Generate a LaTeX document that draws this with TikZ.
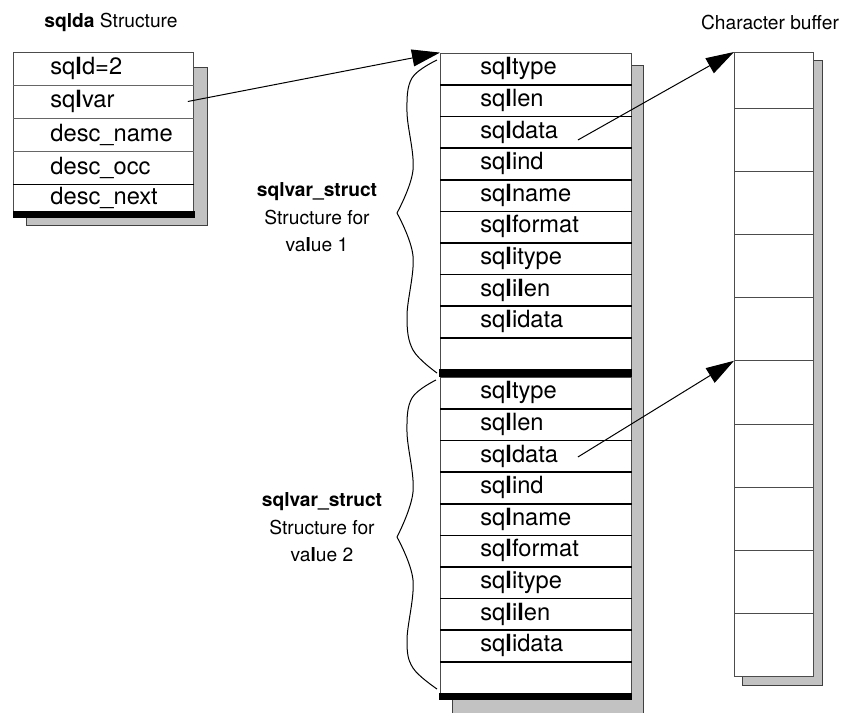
\documentclass[tikz,border=0pt]{standalone}
\usepackage{fontspec}
\setmainfont{TeX Gyre Heros}
\usepackage{tikz}
\usetikzlibrary{positioning, arrows.meta}
\definecolor{shadowgray}{gray}{0.76}
\newcommand{\lbold}{\textbf{l}}

\begin{document}
\begin{tikzpicture}[
    x=0.5pt, y=-0.5pt,
    node distance=0pt,
    caption/.style={align=center, inner sep=0pt, font=\fontsize{9.6}{13.75}\selectfont},
    rowtext/.style={anchor=west, align=left, inner sep=0pt, font=\fontsize{11.85}{14}\selectfont},
    darow/.style={rowtext, text width=90pt, minimum height=16.5pt, execute at begin node={\hspace*{18.5pt}}},
    varrow/.style={rowtext, text width=95.5pt, minimum height=15.8pt, execute at begin node={\hspace*{20pt}}},
    structbox/.style={draw=black!70, fill=white, line width=0.5pt, inner sep=0pt, outer sep=0pt},
    cell/.style={draw=black!70, fill=white, line width=0.5pt, minimum width=39.5pt, minimum height=31.6pt, inner sep=0pt, outer sep=0pt},
    shadow/.style={fill=shadowgray, draw=black!75, line width=0.5pt},
    thinrule/.style={draw=black!60, line width=0.5pt},
    rowrule/.style={draw=black, line width=0.75pt},
    ptr/.style={-{Triangle[length=14pt, width=8.5pt]}, line width=0.5pt},
    brace/.style={line width=0.5pt}
]
    \useasboundingbox (0,0) rectangle (843,713);

    % --- sqlda STRUCTURE ---
    \node[caption] (datitle) at (111,22) {\textbf{sqlda} Structure};
    \filldraw[shadow] (26,67) rectangle (207,225);
    \node[structbox, minimum width=90pt, minimum height=79.5pt] (da) at (103,131.5) {};
    \fill (13,211) rectangle (195,218);

    \node[darow] (sqld) at (13,68.5) {sq\lbold d=2};
    \node[darow] (sqlvar) at (13,101.5) {sq\lbold var};
    \node[darow] (descname) at (13,134.5) {desc\_name};
    \node[darow] (descocc) at (13,167.5) {desc\_occ};
    \node[darow] (descnext) at (13,197.5) {desc\_next};
    \draw[thinrule] (sqld.south west) -- (sqld.south east);
    \draw[thinrule] (sqlvar.south west) -- (sqlvar.south east);
    \draw[thinrule] (descname.south west) -- (descname.south east);
    \draw[rowrule] (descocc.south west) -- (descocc.south east);

    % --- sqlvar_struct COLUMN ---
    \fill[shadowgray] (452,65) rectangle (643,713);
    \draw[draw=black!75, line width=0.5pt] (452,713) |- (643,65) -- (643,713);
    \node[structbox, minimum width=95.5pt, minimum height=158pt] (var1) at (535.5,211) {};
    \node[structbox, minimum width=95.5pt, minimum height=158pt] (var2) at (535.5,535) {};
    \fill (439,369) rectangle (632,377);
    \fill (439,693) rectangle (632,700);

    % value 1
    \node[varrow] (type1) at (440,68.8) {sq\lbold type};
    \node[varrow] (len1) at (440,100.4) {sq\lbold len};
    \node[varrow] (data1) at (440,132) {sq\lbold data};
    \node[varrow] (ind1) at (440,163.6) {sq\lbold ind};
    \node[varrow] (name1) at (440,195.2) {sq\lbold name};
    \node[varrow] (format1) at (440,226.8) {sq\lbold format};
    \node[varrow] (itype1) at (440,258.4) {sq\lbold itype};
    \node[varrow] (ilen1) at (440,290) {sq\lbold i\lbold en};
    \node[varrow] (idata1) at (440,321.6) {sq\lbold idata};

    % value 2
    \node[varrow] (type2) at (440,392.8) {sq\lbold type};
    \node[varrow] (len2) at (440,424.4) {sq\lbold len};
    \node[varrow] (data2) at (440,456) {sq\lbold data};
    \node[varrow] (ind2) at (440,487.6) {sq\lbold ind};
    \node[varrow] (name2) at (440,519.2) {sq\lbold name};
    \node[varrow] (format2) at (440,550.8) {sq\lbold format};
    \node[varrow] (itype2) at (440,582.4) {sq\lbold itype};
    \node[varrow] (ilen2) at (440,614) {sq\lbold i\lbold en};
    \node[varrow] (idata2) at (440,645.6) {sq\lbold idata};

    \foreach \r in {type1,len1,data1,ind1,name1,format1,itype1,ilen1,idata1,
                    type2,len2,data2,ind2,name2,format2,itype2,ilen2,idata2}
        \draw[rowrule] (\r.south west) -- (\r.south east);

    % Braces and their captions
    \draw[brace] plot[smooth, tension=0.6] coordinates {(437,60) (412,78) (407,112) (413,170) (397,213)};
    \draw[brace] plot[smooth, tension=0.6] coordinates {(397,213) (413,256) (407,316) (413,350) (437,373)};
    \draw[brace] plot[smooth, tension=0.6] coordinates {(436,380) (412,398) (407,432) (413,492) (397,537)};
    \draw[brace] plot[smooth, tension=0.6] coordinates {(397,537) (413,580) (407,640) (413,668) (437,689)};

    \node[caption] (val1) at (317,217.5) {\textbf{sqlvar\_struct}\\Structure for\\va\lbold ue 1};
    \node[caption] (val2) at (322,527.5) {\textbf{sqlvar\_struct}\\Structure for\\va\lbold ue 2};

    % --- CHARACTER BUFFER ---
    \node[caption] (buftitle) at (770,22) {Character buffer};
    \filldraw[shadow] (742,60) rectangle (822,685);
    \node[cell, minimum height=28pt] (buf1) at (773.5,80) {};
    \node[cell, below=of buf1] (buf2) {};
    \node[cell, below=of buf2] (buf3) {};
    \node[cell, below=of buf3] (buf4) {};
    \node[cell, below=of buf4] (buf5) {};
    \node[cell, below=of buf5] (buf6) {};
    \node[cell, below=of buf6] (buf7) {};
    \node[cell, below=of buf7] (buf8) {};
    \node[cell, below=of buf8] (buf9) {};
    \node[cell, below=of buf9] (buf10) {};

    % --- POINTERS ---
    \draw[ptr] ([xshift=-3pt]sqlvar.east) -- (type1.north west);
    \draw[ptr] ([xshift=21pt, yshift=-4pt]data1.center) -- (buf1.north west);
    \draw[ptr] ([xshift=21pt, yshift=-0.5pt]data2.center) -- (buf6.north west);

\end{tikzpicture}
\end{document}
